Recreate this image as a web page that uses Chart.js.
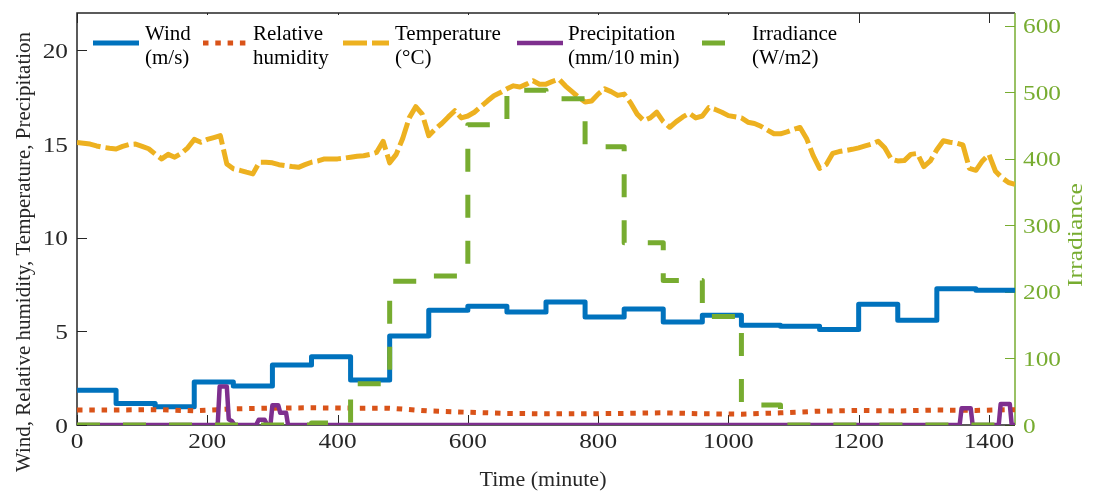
<!DOCTYPE html>
<html>
<head>
<meta charset="utf-8">
<script src="https://cdn.jsdelivr.net/npm/chart.js@4.4.1/dist/chart.umd.min.js"></script>
<style>
  html, body { margin: 0; padding: 0; background: #ffffff; }
  #wrap { width: 1093px; height: 491px; }
</style>
</head>
<body>
<div id="wrap"><canvas id="c" width="1093" height="491"></canvas></div>
<script>
// Hourly step series (value holds from the given minute to the next one)
const hourTimes = [0, 60, 120, 180, 240, 300, 360, 420, 480, 540, 600, 660, 720,
                   780, 840, 900, 960, 1020, 1080, 1140, 1200, 1260, 1320, 1380, 1440];
const windSpeed = [1.86, 1.15, 0.98, 2.3, 2.08, 3.2, 3.64, 2.4, 4.75, 6.13, 6.34, 6.04, 6.57,
                   5.77, 6.2, 5.5, 5.86, 5.33, 5.27, 5.1, 6.45, 5.6, 7.28, 7.2, 7.2];
const irradiance = [0, 0, 0, 0, 0, 0, 3, 62, 216, 224, 451, 503, 490,
                    418, 274, 217, 163, 30, 0, 0, 0, 0, 0, 0, 0];

// Relative humidity, hourly
const relHumidity = [0.80, 0.80, 0.82, 0.76, 0.86, 0.90, 0.92, 0.90, 0.90, 0.75, 0.68, 0.62, 0.60,
                     0.60, 0.62, 0.65, 0.60, 0.58, 0.65, 0.74, 0.78, 0.75, 0.80, 0.78, 0.82];

// Temperature every 10 minutes, 0 .. 1440
const temperature = [
  15.09, 15.05, 15.0, 14.9, 14.83, 14.78, 14.74, 14.88, 14.98, 15.0, 14.88, 14.75,
  14.47, 14.21, 14.45, 14.3, 14.5, 14.8, 15.25, 15.1, 15.25, 15.35, 15.45, 13.94,
  13.68, 13.6, 13.5, 13.41, 14.03, 14.03, 14.0, 13.9, 13.85, 13.8, 13.76, 13.9,
  14.03, 14.1, 14.21, 14.21, 14.21, 14.25, 14.3, 14.35, 14.38, 14.45, 14.56, 15.15,
  14.0, 14.45, 15.3, 16.4, 17.0, 16.6, 15.45, 15.8, 16.1, 16.45, 16.78, 16.4,
  16.5, 16.7, 17.0, 17.3, 17.58, 17.75, 17.95, 18.11, 18.05, 18.2, 18.38, 18.2,
  18.2, 18.35, 18.47, 18.1, 17.8, 17.5, 17.25, 17.3, 17.67, 17.95, 17.8, 17.6,
  17.67, 17.2, 16.6, 16.25, 16.4, 16.7, 16.2, 15.9, 16.2, 16.45, 16.65, 16.4,
  16.5, 16.95, 16.85, 16.7, 16.52, 16.46, 16.4, 16.17, 16.1, 15.95, 15.75, 15.55,
  15.55, 15.65, 15.78, 15.89, 15.3, 14.4, 13.7, 13.9, 14.5, 14.6, 14.66, 14.72,
  14.8, 14.9, 15.0, 15.15, 14.8, 14.2, 14.1, 14.12, 14.45, 14.5, 13.8, 14.1,
  14.7, 15.18, 15.1, 15.05, 14.95, 13.7, 13.6, 14.1, 14.45, 13.55, 13.2, 12.95,
  12.85
];
const tempTimes = temperature.map((_, i) => i * 10);

// Precipitation events
const precipTimes  = [0, 216, 219, 230, 233, 238, 242, 275, 279, 288, 292, 297, 300, 309, 312, 321, 324,
                      1355, 1358, 1372, 1375, 1415, 1418, 1432, 1435, 1440];
const precipValues = [0, 0, 2.05, 2.05, 0.3, 0.2, 0, 0, 0.28, 0.28, 0, 0, 1.05, 1.05, 0.65, 0.65, 0,
                      0, 0.9, 0.9, 0, 0, 1.12, 1.12, 0, 0];

const xTickValues = [0, 200, 400, 600, 800, 1000, 1200, 1400];
const leftTickValues = [0, 5, 10, 15, 20];
const rightTickValues = [0, 100, 200, 300, 400, 500, 600];

const seriesLabels = [
  ['Wind', '(m/s)'],
  ['Relative', 'humidity'],
  ['Temperature', '(\u00B0C)'],
  ['Precipitation', '(mm/10 min)'],
  ['Irradiance', '(W/m2)']
];
const xTitle = 'Time (minute)';
const leftTitle = 'Wind, Relative humidity, Temperature, Precipitation';
const rightTitle = 'Irradiance';

const SERIF = "'Liberation Serif', 'Times New Roman', serif";
const INK = '#262626';
const GREEN = '#77AC30';

const pairs = (xs, ys) => xs.map((x, i) => ({ x: x, y: ys[i] }));

// Legend slots: sample start and text start
const legendSlots = [
  { x0: 93, tx: 145 },
  { x0: 203, tx: 253 },
  { x0: 343, tx: 395 },
  { x0: 517, tx: 568 },
  { x0: 702, tx: 752 }
];

// Text drawn with a horizontal widening factor
function wideText(ctx, text, x, y, align, sx) {
  ctx.save();
  ctx.translate(x, y);
  ctx.scale(sx, 1);
  ctx.textAlign = align;
  ctx.textBaseline = 'alphabetic';
  ctx.fillText(text, 0, 0);
  ctx.restore();
}

const framePlugin = {
  id: 'frame',
  beforeDatasetsDraw(chart) {
    const { ctx, chartArea: a, scales } = chart;
    const tl = 10;
    ctx.save();
    ctx.lineWidth = 1;
    ctx.strokeStyle = INK;
    ctx.beginPath();
    xTickValues.forEach(v => {
      const px = Math.round(scales.x.getPixelForValue(v)) + 0.5;
      ctx.moveTo(px, a.bottom); ctx.lineTo(px, a.bottom - tl);
      ctx.moveTo(px, a.top); ctx.lineTo(px, a.top + tl);
    });
    leftTickValues.forEach(v => {
      const py = Math.round(scales.y.getPixelForValue(v)) + 0.5;
      ctx.moveTo(a.left, py); ctx.lineTo(a.left + tl, py);
    });
    ctx.stroke();
    ctx.strokeStyle = GREEN;
    ctx.beginPath();
    rightTickValues.forEach(v => {
      const py = Math.round(scales.y2.getPixelForValue(v)) + 0.5;
      ctx.moveTo(a.right, py); ctx.lineTo(a.right - tl, py);
    });
    ctx.stroke();

    ctx.lineWidth = 1.5;
    ctx.strokeStyle = INK;
    ctx.beginPath();
    ctx.moveTo(a.right, a.top); ctx.lineTo(a.left, a.top);
    ctx.lineTo(a.left, a.bottom); ctx.lineTo(a.right, a.bottom);
    ctx.stroke();
    ctx.strokeStyle = GREEN;
    ctx.beginPath();
    ctx.moveTo(a.right, a.top); ctx.lineTo(a.right, a.bottom);
    ctx.stroke();

    // tick labels
    ctx.font = '22px ' + SERIF;
    ctx.fillStyle = INK;
    xTickValues.forEach(v => {
      wideText(ctx, String(v), scales.x.getPixelForValue(v), 448, 'center', 1.15);
    });
    leftTickValues.forEach(v => {
      wideText(ctx, String(v), a.left - 9, scales.y.getPixelForValue(v) + 7.5, 'right', 1.15);
    });
    ctx.fillStyle = GREEN;
    rightTickValues.forEach(v => {
      wideText(ctx, String(v), a.right + 8, scales.y2.getPixelForValue(v) + 7.5, 'left', 1.15);
    });
    ctx.restore();
  },
  afterDraw(chart) {
    const { ctx, chartArea: a } = chart;
    ctx.save();
    // legend panel
    ctx.fillStyle = '#ffffff';
    ctx.fillRect(88, 15, 764, 58);
    const ly = 43;
    chart.data.datasets.forEach((ds, i) => {
      const s = legendSlots[i];
      ctx.save();
      ctx.strokeStyle = ds.borderColor;
      ctx.lineWidth = ds.borderWidth;
      ctx.setLineDash(ds.borderDash || []);
      ctx.lineCap = 'butt';
      ctx.beginPath();
      ctx.moveTo(s.x0, ly); ctx.lineTo(s.x0 + 46, ly);
      ctx.stroke();
      ctx.restore();
      ctx.fillStyle = '#000000';
      ctx.font = '21px ' + SERIF;
      ctx.textAlign = 'left';
      ctx.textBaseline = 'alphabetic';
      ctx.fillText(ds.label[0], s.tx, 40);
      ctx.fillText(ds.label[1], s.tx, 64);
    });

    // axis titles
    ctx.fillStyle = INK;
    ctx.font = '22px ' + SERIF;
    ctx.textAlign = 'center';
    ctx.textBaseline = 'alphabetic';
    ctx.fillText(xTitle, (a.left + a.right) / 2 - 3, 486);

    ctx.save();
    ctx.font = '21px ' + SERIF;
    ctx.translate(30, 252);
    ctx.rotate(-Math.PI / 2);
    ctx.fillText(leftTitle, 0, 0);
    ctx.restore();

    ctx.save();
    ctx.fillStyle = GREEN;
    ctx.font = '21px ' + SERIF;
    ctx.translate(1082, 235);
    ctx.rotate(-Math.PI / 2);
    ctx.scale(1.22, 1);
    ctx.fillText(rightTitle, 0, 0);
    ctx.restore();
    ctx.restore();
  }
};

const hiddenTicks = { display: false };

new Chart(document.getElementById('c'), {
  type: 'line',
  data: {
    datasets: [
      { label: seriesLabels[0], data: pairs(hourTimes, windSpeed), yAxisID: 'y',
        borderColor: '#0072BD', borderWidth: 5, stepped: 'before', order: 4 },
      { label: seriesLabels[1], data: pairs(hourTimes, relHumidity), yAxisID: 'y',
        borderColor: '#D95319', borderWidth: 5, borderDash: [5.5, 6.8], order: 3 },
      { label: seriesLabels[2], data: pairs(tempTimes, temperature), yAxisID: 'y',
        borderColor: '#EDB120', borderWidth: 5, borderDash: [24, 5], order: 2 },
      { label: seriesLabels[3], data: pairs(precipTimes, precipValues), yAxisID: 'y',
        borderColor: '#7E2F8E', borderWidth: 4.5, order: 1 },
      { label: seriesLabels[4], data: pairs(hourTimes, irradiance), yAxisID: 'y2',
        borderColor: GREEN, borderWidth: 5, borderDash: [23, 23], stepped: 'before', order: 0 }
    ]
  },
  options: {
    responsive: false,
    animation: false,
    devicePixelRatio: 1,
    layout: { padding: { top: 13, left: 0, right: 0, bottom: 0 } },
    elements: {
      point: { radius: 0, hoverRadius: 0 },
      line: { tension: 0, borderJoinStyle: 'round', borderCapStyle: 'butt', fill: false }
    },
    plugins: { legend: { display: false }, tooltip: { enabled: false } },
    scales: {
      x: {
        type: 'linear', position: 'bottom', min: 0, max: 1440,
        afterBuildTicks: s => { s.ticks = xTickValues.map(v => ({ value: v })); },
        afterFit: s => { s.height = 66; },
        grid: { display: false, drawTicks: false },
        border: { display: false },
        ticks: hiddenTicks
      },
      y: {
        type: 'linear', position: 'left', min: 0, max: 22,
        afterBuildTicks: s => { s.ticks = leftTickValues.map(v => ({ value: v })); },
        afterFit: s => { s.width = 77; },
        grid: { display: false, drawTicks: false },
        border: { display: false },
        ticks: hiddenTicks
      },
      y2: {
        type: 'linear', position: 'right', min: 0, max: 619,
        afterBuildTicks: s => { s.ticks = rightTickValues.map(v => ({ value: v })); },
        afterFit: s => { s.width = 78; },
        grid: { display: false, drawTicks: false },
        border: { display: false },
        ticks: hiddenTicks
      }
    }
  },
  plugins: [framePlugin]
});
</script>
</body>
</html>
